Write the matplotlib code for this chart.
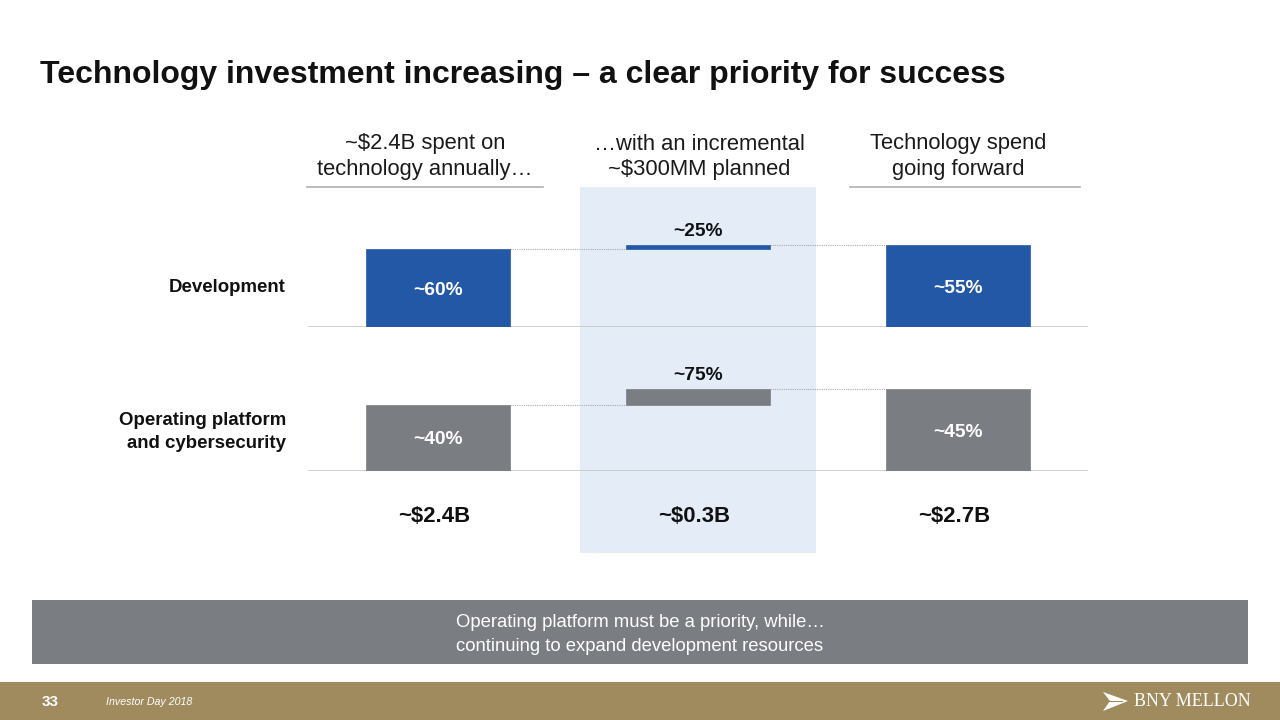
import matplotlib
matplotlib.use("Agg")
import matplotlib.pyplot as plt
from matplotlib.patches import Rectangle, Polygon
from matplotlib.transforms import blended_transform_factory, offset_copy

plt.rcParams['font.family'] = ['Liberation Sans', 'DejaVu Sans']

# ---------------- data ----------------
title = "Technology investment increasing \u2013 a clear priority for success"
column_headers = ["~$2.4B spent on\ntechnology annually\u2026",
                  "\u2026with an incremental\n~$300MM planned",
                  "Technology spend\ngoing forward"]
row_labels = ["Development", "Operating platform\nand cybersecurity"]
current_share = [60, 40]        # % of ~$2.4B
incremental_share = [25, 75]    # % of ~$0.3B
future_share = [55, 45]         # % of ~$2.7B
spend_billions = [2.4, 0.3, 2.7]
total_labels = ["~$2.4B", "~$0.3B", "~$2.7B"]
banner_text = "Operating platform must be a priority, while\u2026\ncontinuing to expand development resources"
page_number = "33"
footer_text = "Investor Day 2018"

# ---------------- style ----------------
BLUE = "#2258a6"
GRAY = "#7a7d82"
BAND = "#e4ecf8"
GOLD = "#a08b5e"
LINE = "#c4c4c4"
W, H = 1280, 720

fig = plt.figure(figsize=(12.8, 7.2), dpi=100)
bg = fig.add_axes([0, 0, 1, 1])
bg.set_xlim(0, W)
bg.set_ylim(H, 0)
bg.axis("off")

# title
bg.text(40, 75, title, fontsize=23, fontweight="bold", color="#111111",
        ha="left", va="center")

# light-blue band behind incremental column
bg.add_patch(Rectangle((580, 187), 236, 366, facecolor=BAND, edgecolor="none", zorder=0))

# column headers and their rules
header_x = [425, 699, 958]
for hx, txt in zip(header_x, column_headers):
    bg.text(hx, 156.5, txt, fontsize=15.8, color="#1a1a1a", ha="center", va="center",
            linespacing=1.25)
bg.plot([307, 543], [187, 187], color="#b0b0b0", lw=1.2)
bg.plot([850, 1080], [187, 187], color="#b0b0b0", lw=1.2)

# row label text
bg.text(286, 288, row_labels[0], fontsize=13.4, fontweight="bold", ha="right",
        va="center", color="#111111")
bg.text(286, 432, row_labels[1], fontsize=13.4, fontweight="bold", ha="right",
        va="center", color="#111111", linespacing=1.4)

# ---------------- rows (waterfall) ----------------
x_left, x_right = 308, 1088
row_baselines = [327, 471]
row_h = 100
bar_w = 144 / 260
row_colors = [BLUE, GRAY]
row_axes = []
for i in range(2):
    base = row_baselines[i]
    ax = fig.add_axes([x_left / W, (H - base) / H, (x_right - x_left) / W, row_h / H])
    ax.set_facecolor("none")
    cur = spend_billions[0] * current_share[i] / 100
    inc = spend_billions[1] * incremental_share[i] / 100
    tot = cur + inc
    ax.set_xlim(-0.5, 2.5)
    ax.set_ylim(0, tot / 0.82)
    c = row_colors[i]
    ax.bar(0, cur, width=bar_w, color=c, edgecolor=c, lw=0.5, zorder=3)
    ax.bar(1, inc, bottom=cur, width=bar_w, color=c, edgecolor=c, lw=0.5, zorder=3)
    ax.bar(2, tot, width=bar_w, color=c, edgecolor=c, lw=0.5, zorder=3)
    # connectors
    ax.plot([bar_w / 2, 1 - bar_w / 2], [cur, cur], ls=(0, (1, 1)), color="#aaaaaa", lw=0.8)
    ax.plot([1 + bar_w / 2, 2 - bar_w / 2], [tot, tot], ls=(0, (1, 1)), color="#aaaaaa", lw=0.8)
    # baseline
    ax.axhline(0, color=LINE, lw=1.8, zorder=2)
    # labels
    ax.annotate(f"~{current_share[i]}%", xy=(0, cur * 0.5), xytext=(0, -1.5),
                textcoords="offset points", ha="center", va="center",
                color="white", fontsize=13.8, fontweight="bold", zorder=4)
    ax.annotate(f"~{future_share[i]}%", xy=(2, tot * 0.5), xytext=(0, -1.5),
                textcoords="offset points", ha="center", va="center",
                color="white", fontsize=13.8, fontweight="bold", zorder=4)
    ax.annotate(f"~{incremental_share[i]}%", xy=(1, tot), xytext=(0, 9.5),
                textcoords="offset points", ha="center", va="center",
                color="#111111", fontsize=13.8, fontweight="bold")
    ax.axis("off")
    row_axes.append(ax)

# totals under the columns
tr = offset_copy(blended_transform_factory(row_axes[1].transData, bg.transData),
                 fig=fig, x=-4, y=0, units="dots")
for j, lab in enumerate(total_labels):
    fig.text(j, 516, lab, transform=tr, ha="center", va="center", fontsize=15.9,
             fontweight="bold", color="#111111")

# ---------------- banner ----------------
bg.add_patch(Rectangle((32, 600), 1216, 64, facecolor=GRAY, edgecolor="none"))
bg.text(640, 634.5, banner_text, ha="center", va="center", color="white",
        fontsize=13.3, linespacing=1.5)

# ---------------- footer ----------------
bg.add_patch(Rectangle((0, 682), W, 38, facecolor=GOLD, edgecolor="none"))
bg.text(42, 702, page_number, ha="left", va="center", color="white",
        fontsize=11, fontweight="bold")
bg.text(106, 702, footer_text, ha="left", va="center", color="white",
        fontsize=7.7, style="italic")
bg.add_patch(Polygon([[1103, 692], [1128, 701], [1103, 711], [1110, 701]],
                     closed=True, facecolor="white", edgecolor="none"))
bg.plot([1108, 1122], [701, 701], color=GOLD, lw=0.8)
bg.text(1134, 701, "BNY MELLON", ha="left", va="center", color="white",
        fontsize=13, family="Liberation Serif")

fig.savefig("out.png", dpi=100)
